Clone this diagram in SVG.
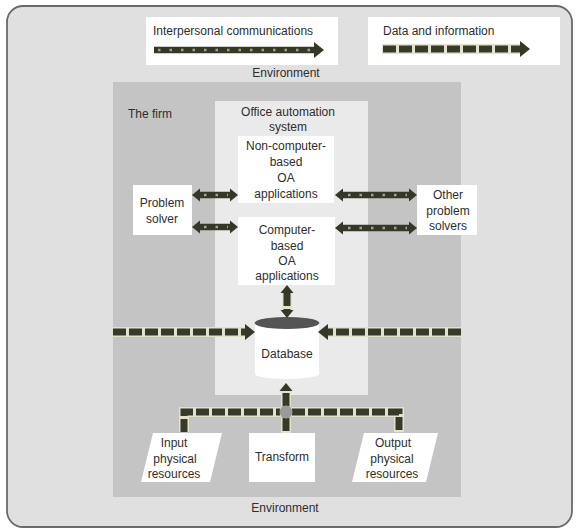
<svg xmlns="http://www.w3.org/2000/svg" width="578" height="531" viewBox="0 0 578 531">
  <style>
    text { font-family: "Liberation Sans", Arial, sans-serif; font-size: 12px; fill: #2e2e2e; text-anchor: middle; }
    .box { fill: #ffffff; }
    .data-under { fill: none; stroke: #e4e1cc; stroke-width: 10; }
    .data { fill: none; stroke: #363b29; stroke-width: 7; stroke-dasharray: 13 3; }
    .talk { fill: none; stroke: #343927; stroke-width: 6.5; }
    .talk-dots { fill: none; stroke: #9ea290; stroke-width: 2.5; stroke-dasharray: 2.5 9; }
  </style>
  <defs>
    <marker id="head" markerUnits="userSpaceOnUse" markerWidth="12" markerHeight="18" viewBox="0 -9 12 18" refX="0" refY="0" orient="auto-start-reverse">
      <path d="M0,-8 L10,0 L0,8 Z" fill="#343927"/>
    </marker>
    <marker id="head-small" markerUnits="userSpaceOnUse" markerWidth="10" markerHeight="16" viewBox="0 -8 10 16" refX="0" refY="0" orient="auto-start-reverse">
      <path d="M0,-6.5 L8,0 L0,6.5 Z" fill="#343927"/>
    </marker>
  </defs>

  <!-- environment frame -->
  <rect x="7" y="6" width="565" height="521" rx="16" fill="#e0e0e0" stroke="#6a6a6a" stroke-width="1.8"/>

  <!-- legend -->
  <g id="legend-talk">
    <rect class="box" x="146" y="17" width="192" height="48"/>
    <text x="153" y="35" style="text-anchor:start">Interpersonal communications</text>
    <line class="talk" x1="154" y1="50" x2="314" y2="50" marker-end="url(#head)"/>
    <line class="talk-dots" x1="158" y1="50" x2="312" y2="50"/>
  </g>
  <g id="legend-data">
    <rect class="box" x="368" y="17" width="192" height="48"/>
    <text x="383" y="35" style="text-anchor:start">Data and information</text>
    <line class="data-under" x1="382" y1="49" x2="520" y2="49"/>
    <line class="data" x1="383" y1="49" x2="520" y2="49" stroke-dasharray="21 6" marker-end="url(#head)"/>
  </g>
  <text x="286" y="77">Environment</text>

  <!-- the firm -->
  <g id="firm">
    <rect x="113" y="82" width="348" height="415" fill="#c4c4c4"/>
    <text x="128" y="118" style="text-anchor:start">The firm</text>
  </g>

  <!-- office automation system -->
  <g id="oa-system">
    <rect x="215" y="101" width="153" height="294" fill="#eaeaea"/>
    <text x="288" y="116">Office automation</text>
    <text x="288" y="131">system</text>
  </g>

  <g id="non-computer-oa">
    <rect class="box" x="238" y="136" width="96" height="67"/>
    <text x="286" y="150">Non-computer-</text>
    <text x="286" y="166">based</text>
    <text x="286" y="182">OA</text>
    <text x="286" y="198">applications</text>
  </g>

  <g id="computer-oa">
    <rect class="box" x="238" y="217" width="97" height="68"/>
    <text x="287" y="234">Computer-</text>
    <text x="287" y="250">based</text>
    <text x="287" y="265">OA</text>
    <text x="287" y="280">applications</text>
  </g>

  <g id="problem-solver">
    <rect class="box" x="133" y="185" width="59" height="50"/>
    <text x="162" y="207">Problem</text>
    <text x="162" y="223">solver</text>
  </g>

  <g id="other-solvers">
    <rect class="box" x="417" y="185" width="60" height="50"/>
    <text x="448" y="199">Other</text>
    <text x="448" y="215">problem</text>
    <text x="448" y="230">solvers</text>
  </g>

  <g id="database">
    <path d="M255,323 V374 A32,5 0 0 0 319,374 V323 Z" fill="#ffffff"/>
    <ellipse cx="287" cy="323" rx="32" ry="5.5" fill="#555555" stroke="#444" stroke-width="0.8"/>
    <text x="287" y="358">Database</text>
  </g>

  <g id="input-resources">
    <polygon class="box" points="153,433 222,433 210,482 141,482"/>
    <text x="174" y="447">Input</text>
    <text x="175" y="463">physical</text>
    <text x="174" y="478">resources</text>
  </g>

  <g id="transform">
    <rect class="box" x="249" y="433" width="66" height="49"/>
    <text x="282" y="461">Transform</text>
  </g>

  <g id="output-resources">
    <polygon class="box" points="364,433 438,433 426,482 352,482"/>
    <text x="393" y="447">Output</text>
    <text x="392" y="463">physical</text>
    <text x="392" y="478">resources</text>
  </g>

  <text x="285" y="512">Environment</text>

  <!-- connectors -->
  <g id="connectors">
    <!-- interpersonal communications -->
    <line class="talk" x1="200" y1="195" x2="230" y2="195" marker-start="url(#head-small)" marker-end="url(#head-small)"/>
    <line class="talk-dots" x1="204" y1="195" x2="228" y2="195"/>
    <line class="talk" x1="200" y1="227" x2="230" y2="227" marker-start="url(#head-small)" marker-end="url(#head-small)"/>
    <line class="talk-dots" x1="204" y1="227" x2="228" y2="227"/>
    <line class="talk" x1="343" y1="195" x2="409" y2="195" marker-start="url(#head-small)" marker-end="url(#head-small)"/>
    <line class="talk-dots" x1="348" y1="195" x2="407" y2="195"/>
    <line class="talk" x1="343" y1="228" x2="409" y2="228" marker-start="url(#head-small)" marker-end="url(#head-small)"/>
    <line class="talk-dots" x1="348" y1="228" x2="407" y2="228"/>

    <!-- data and information -->
    <line class="data-under" x1="287" y1="293" x2="287" y2="310" stroke-width="8"/>
    <line class="data" x1="287" y1="293" x2="287" y2="310" stroke-width="5.5" stroke-dasharray="6 2" marker-start="url(#head-small)" marker-end="url(#head-small)"/>

    <line class="data-under" x1="112" y1="332" x2="245" y2="332"/>
    <line class="data" x1="113" y1="332" x2="245" y2="332" marker-end="url(#head)"/>
    <line class="data-under" x1="462" y1="332" x2="328" y2="332"/>
    <line class="data" x1="461" y1="332" x2="328" y2="332" marker-end="url(#head)"/>

    <path class="data-under" d="M184,432 V412 H399 V432"/>
    <path class="data" d="M184,432 V412 H280"/>
    <path class="data" d="M292,412 H399 V432"/>
    <line class="data-under" x1="286" y1="418" x2="286" y2="433"/>
    <line class="data" x1="286" y1="418" x2="286" y2="433" stroke-dasharray="15 0"/>
    <line class="data-under" x1="286" y1="406" x2="286" y2="391"/>
    <line class="data" x1="286" y1="406" x2="286" y2="391" stroke-dasharray="6 2" marker-end="url(#head-small)"/>
    <circle cx="286" cy="412" r="6.5" fill="#9a9a9a"/>
  </g>
</svg>
